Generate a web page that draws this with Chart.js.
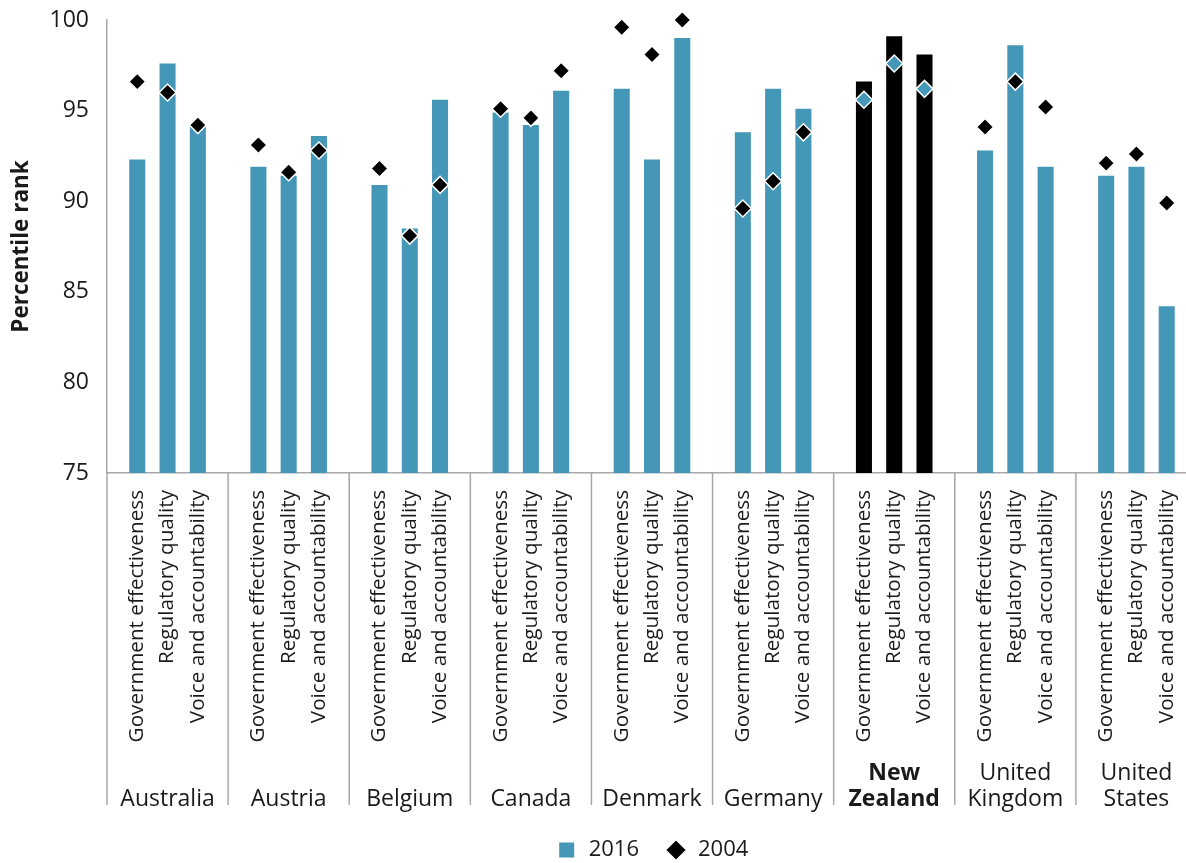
<!DOCTYPE html>
<html>
<head>
<meta charset="utf-8">
<script src="https://cdn.jsdelivr.net/npm/chart.js@4.4.1/dist/chart.umd.min.js"></script>
<style>
  body { margin: 0; overflow: hidden; background: #fff; }
  #wrap { width: 1304px; height: 863px; }
</style>
</head>
<body>
<div id="wrap"><canvas id="chart" width="1304" height="863"></canvas></div>
<script>
// Governance indicators (percentile rank), 2016 bars vs 2004 markers

const countries = ['Australia', 'Austria', 'Belgium', 'Canada', 'Denmark', 'Germany',
    ['New', 'Zealand'], ['United', 'Kingdom'], ['United', 'States']];
const indicators = ['Government effectiveness', 'Regulatory quality', 'Voice and accountability'];
const highlightCountry = 6; // New Zealand

// three values per country, in the order of indicators
const values2016 = [
    92.3, 97.6, 94.1,   // Australia
    91.9, 91.4, 93.6,   // Austria
    90.9, 88.5, 95.6,   // Belgium
    94.9, 94.2, 96.1,   // Canada
    96.2, 92.3, 99.0,   // Denmark
    93.8, 96.2, 95.1,   // Germany
    96.6, 99.1, 98.1,   // New Zealand
    92.8, 98.6, 91.9,   // United Kingdom
    91.4, 91.9, 84.2    // United States
];
const values2004 = [
    96.6, 96.0, 94.2,
    93.1, 91.6, 92.8,
    91.8, 88.1, 90.9,
    95.1, 94.6, 97.2,
    99.6, 98.1, 100.0,
    89.6, 91.1, 93.8,
    95.6, 97.6, 96.2,
    94.1, 96.6, 95.2,
    92.1, 92.6, 89.9
];
const yMin = 75;
const yMax = 100;
const yStep = 5;

const TEAL = '#4497b7';
const FONT = '"Open Sans"';
const TEXT = '#1a1a1a';
const AXIS = '#a8a8a8';

// build the flat category list, with an empty slot between countries
const labels = [''];
const bars = [null];
const marks = [null];
countries.forEach((c, i) => {
    indicators.forEach((name, k) => {
        labels.push(name);
        bars.push(values2016[i * 3 + k]);
        marks.push(values2004[i * 3 + k]);
    });
    labels.push('');
    bars.push(null);
    marks.push(null);
});

function isHighlight(index) {
    return index % 4 !== 0 && Math.floor(index / 4) === highlightCountry;
}

// vertical separators between country groups, through both label rows
const groupDividers = {
    id: 'groupDividers',
    afterDraw(chart) {
        const x = chart.scales.x;
        const x2 = chart.scales.x2;
        const ctx = chart.ctx;
        ctx.save();
        ctx.strokeStyle = AXIS;
        ctx.lineWidth = 1.5;
        for (let i = 0; i < labels.length; i += 4) {
            const px = x.getPixelForValue(i);
            ctx.beginPath();
            ctx.moveTo(px, x.top);
            ctx.lineTo(px, x2.bottom - 8);
            ctx.stroke();
        }
        ctx.restore();
    }
};

function initChart() {
    const ctx = document.getElementById('chart');
    return new Chart(ctx, {
        type: 'bar',
        data: {
            labels: labels,
            datasets: [{
                type: 'line',
                label: '2004',
                data: marks,
                showLine: false,
                pointStyle: 'rectRot',
                pointRadius: 8.5,
                pointHoverRadius: 8.5,
                pointBackgroundColor: (c) => isHighlight(c.dataIndex) ? TEAL : '#000',
                pointBorderColor: '#fff',
                pointBorderWidth: 1.5,
                borderColor: '#fff',
                backgroundColor: '#000',
                clip: false,
                order: 1
            }, {
                label: '2016',
                data: bars,
                backgroundColor: (c) => isHighlight(c.dataIndex) ? '#000' : TEAL,
                pointStyle: 'rect',
                borderWidth: 0,
                barPercentage: 0.53,
                categoryPercentage: 1,
                order: 2
            }]
        },
        options: {
            responsive: false,
            animation: false,
            layout: {
                padding: 0
            },
            scales: {
                x: {
                    type: 'category',
                    offset: false,
                    weight: 0,
                    grid: { display: false, drawTicks: false },
                    border: { display: true, color: AXIS, width: 1.5 },
                    ticks: {
                        autoSkip: false,
                        minRotation: 90,
                        maxRotation: 90,
                        padding: 17,
                        color: TEXT,
                        font: { family: FONT, size: 20.7 }
                    },
                    afterFit: (scale) => { scale.height = 272; }
                },
                x2: {
                    type: 'category',
                    position: 'bottom',
                    labels: countries,
                    offset: true,
                    weight: 1,
                    grid: { display: false, drawTicks: false },
                    border: { display: false },
                    ticks: {
                        autoSkip: false,
                        maxRotation: 0,
                        crossAlign: 'far',
                        padding: 28,
                        color: TEXT,
                        font: (c) => ({
                            family: FONT,
                            size: 23,
                            lineHeight: 1.15,
                            weight: c.index === highlightCountry ? 'bold' : 'normal'
                        })
                    },
                    afterFit: (scale) => { scale.height = 68; }
                },
                y: {
                    min: yMin,
                    max: yMax,
                    grid: { display: false, drawTicks: false },
                    border: { display: true, color: AXIS, width: 1.5 },
                    ticks: {
                        stepSize: yStep,
                        padding: 18,
                        color: TEXT,
                        font: { family: FONT, size: 23 }
                    },
                    title: {
                        display: true,
                        text: 'Percentile rank',
                        color: TEXT,
                        font: { family: FONT, size: 22.5, weight: 'bold' },
                        padding: { top: 8, bottom: 0 }
                    },
                    afterFit: (scale) => {
                        scale.width = 107;
                        scale.paddingTop = 20;
                    }
                },
                // empty right-hand strip: the plot runs past the visible page
                yRight: {
                    position: 'right',
                    grid: { display: false, drawTicks: false },
                    border: { display: false },
                    ticks: { display: false },
                    afterFit: (scale) => { scale.width = 107; }
                }
            },
            plugins: {
                legend: {
                    position: 'bottom',
                    maxHeight: 50,
                    reverse: true,
                    labels: {
                        usePointStyle: true,
                        boxHeight: 15,
                        padding: 26,
                        color: TEXT,
                        font: { family: FONT, size: 22 }
                    }
                },
                tooltip: { enabled: false }
            }
        },
        plugins: [groupDividers]
    });
}

document.addEventListener('DOMContentLoaded', initChart);
</script>
</body>
</html>
